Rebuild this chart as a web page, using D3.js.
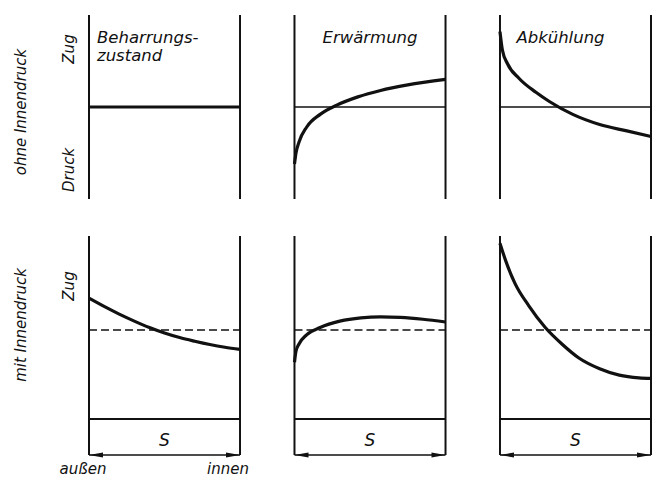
<!DOCTYPE html>
<html>
<head>
<meta charset="utf-8">
<script src="https://cdn.jsdelivr.net/npm/d3@7"></script>
<style>
  html, body { margin: 0; padding: 0; background: #fff; }
  svg { display: block; }
  text { font-family: "DejaVu Sans", sans-serif; font-style: italic; fill: #111; }
</style>
</head>
<body>
<svg id="chart" width="659" height="495"></svg>
<script>
// ---------- data ----------
const columns = ["Beharrungszustand", "Erwärmung", "Abkühlung"];
const columnTitles = [["Beharrungs-", "zustand"], ["Erwärmung"], ["Abkühlung"]];
const rowLabels = ["ohne Innendruck", "mit Innendruck"];
const topAxisLabels = ["Zug", "Druck"];
const bottomAxisLabels = ["Zug"];
const thicknessLabel = "S";
const sideLabels = ["außen", "innen"];

// position across wall (0 = außen, 1 = innen)
// top row: stress relative to zero line (range -1 .. 1)
const topX = [
  [0, 1],
  [0, 0.01, 0.03, 0.08, 0.17, 0.28, 0.42, 0.57, 0.75, 1.0],
  [0, 0.016, 0.05, 0.127, 0.238, 0.327, 0.482, 0.66, 0.84, 1.0]
];
const topY = [
  [0, 0],
  [-0.62, -0.50, -0.38, -0.22, -0.08, 0.02, 0.11, 0.18, 0.24, 0.30],
  [0.82, 0.62, 0.47, 0.31, 0.16, 0.06, -0.08, -0.19, -0.26, -0.32]
];
// bottom row: stress above zero line (range 0 .. 1), mean value dashed
const bottomMean = 0.486;
const bottomX = [
  [0, 0.1, 0.2, 0.3, 0.4, 0.5, 0.6, 0.7, 0.8, 0.9, 1.0],
  [0, 0.01, 0.03, 0.08, 0.17, 0.3, 0.44, 0.57, 0.7, 0.85, 1.0],
  [0, 0.04, 0.1, 0.19, 0.3, 0.41, 0.52, 0.66, 0.79, 0.92, 1.0]
];
const bottomY = [
  [0.66, 0.615, 0.573, 0.535, 0.50, 0.47, 0.445, 0.425, 0.407, 0.392, 0.38],
  [0.31, 0.37, 0.41, 0.46, 0.50, 0.535, 0.553, 0.558, 0.555, 0.545, 0.53],
  [0.96, 0.86, 0.74, 0.62, 0.50, 0.41, 0.335, 0.275, 0.24, 0.225, 0.222]
];

// ---------- layout ----------
const svg = d3.select("#chart");
const col = d3.scaleBand().domain(d3.range(3)).range([89, 651]).paddingInner(0.265);
const xIn = d3.scaleLinear().domain([0, 1]);
const yTop = d3.scaleLinear().domain([-1, 1]).range([199, 15]);
const yBot = d3.scaleLinear().domain([0, 1]).range([419, 236]);
const boxBottom = 455;

const line = (ys) => d3.line()
  .x(d => d[0]).y(d => ys(d[1]))
  .curve(d3.curveMonotoneX);

const ink = "#111";

columns.forEach((name, i) => {
  const x0 = col(i), x1 = col(i) + col.bandwidth();
  const xs = xIn.copy().range([x0, x1]);

  // ----- top row -----
  const gT = svg.append("g");
  [x0, x1].forEach(x => gT.append("line")
    .attr("x1", x).attr("x2", x).attr("y1", yTop.range()[1]).attr("y2", yTop.range()[0])
    .attr("stroke", ink).attr("stroke-width", 2));
  gT.append("line").attr("x1", x0).attr("x2", x1)
    .attr("y1", yTop(0)).attr("y2", yTop(0))
    .attr("stroke", ink).attr("stroke-width", i === 0 ? 3 : 1.6);
  if (i > 0) {
    gT.append("path")
      .datum(topX[i].map((v, k) => [xs(v), topY[i][k]]))
      .attr("d", line(yTop))
      .attr("fill", "none").attr("stroke", ink).attr("stroke-width", 3.2);
  }
  const tx = i === 0 ? x0 + 8 : (x0 + x1) / 2 + (i === 2 ? -15 : 0);
  const title = gT.append("text")
    .attr("x", tx).attr("y", 43)
    .attr("text-anchor", i === 0 ? "start" : "middle")
    .attr("font-size", 16.5);
  columnTitles[i].forEach((t, k) => title.append("tspan")
    .attr("x", tx).attr("dy", k === 0 ? 0 : 18).text(t));

  // ----- bottom row -----
  const gB = svg.append("g");
  [x0, x1].forEach(x => gB.append("line")
    .attr("x1", x).attr("x2", x).attr("y1", yBot.range()[1]).attr("y2", boxBottom)
    .attr("stroke", ink).attr("stroke-width", 2));
  gB.append("line").attr("x1", x0).attr("x2", x1)
    .attr("y1", yBot(0)).attr("y2", yBot(0))
    .attr("stroke", ink).attr("stroke-width", 2);
  gB.append("line").attr("x1", x0).attr("x2", x1)
    .attr("y1", yBot(bottomMean)).attr("y2", yBot(bottomMean))
    .attr("stroke", ink).attr("stroke-width", 1.5).attr("stroke-dasharray", "8,4");
  gB.append("path")
    .datum(bottomX[i].map((v, k) => [xs(v), bottomY[i][k]]))
    .attr("d", line(yBot))
    .attr("fill", "none").attr("stroke", ink).attr("stroke-width", 3.2);
  // dimension line with arrows
  gB.append("line").attr("x1", x0).attr("x2", x1)
    .attr("y1", boxBottom).attr("y2", boxBottom)
    .attr("stroke", ink).attr("stroke-width", 1.6);
  [[x0, 1], [x1, -1]].forEach(([x, d]) => gB.append("path")
    .attr("d", `M${x},${boxBottom} L${x + d * 14},${boxBottom - 2.5} L${x + d * 14},${boxBottom + 2.5} Z`)
    .attr("fill", ink));
  gB.append("text")
    .attr("x", (x0 + x1) / 2).attr("y", 446)
    .attr("text-anchor", "middle").attr("font-size", 17)
    .text(thicknessLabel);
});

// side labels under first column
svg.append("text").attr("x", 83).attr("y", 474).attr("text-anchor", "middle")
  .attr("font-size", 15).text(sideLabels[0]);
svg.append("text").attr("x", 228).attr("y", 474).attr("text-anchor", "middle")
  .attr("font-size", 15).text(sideLabels[1]);

// row labels (rotated)
const vText = (txt, x, y, size) => svg.append("text")
  .attr("transform", `translate(${x},${y}) rotate(-90)`)
  .attr("text-anchor", "middle").attr("font-size", size).text(txt);
vText(rowLabels[0], 26, 112, 15);
vText(rowLabels[1], 26, 325, 15);
vText(topAxisLabels[0], 74, 49, 15);
vText(topAxisLabels[1], 74, 170, 15);
vText(bottomAxisLabels[0], 74, 286, 15);
</script>
</body>
</html>
